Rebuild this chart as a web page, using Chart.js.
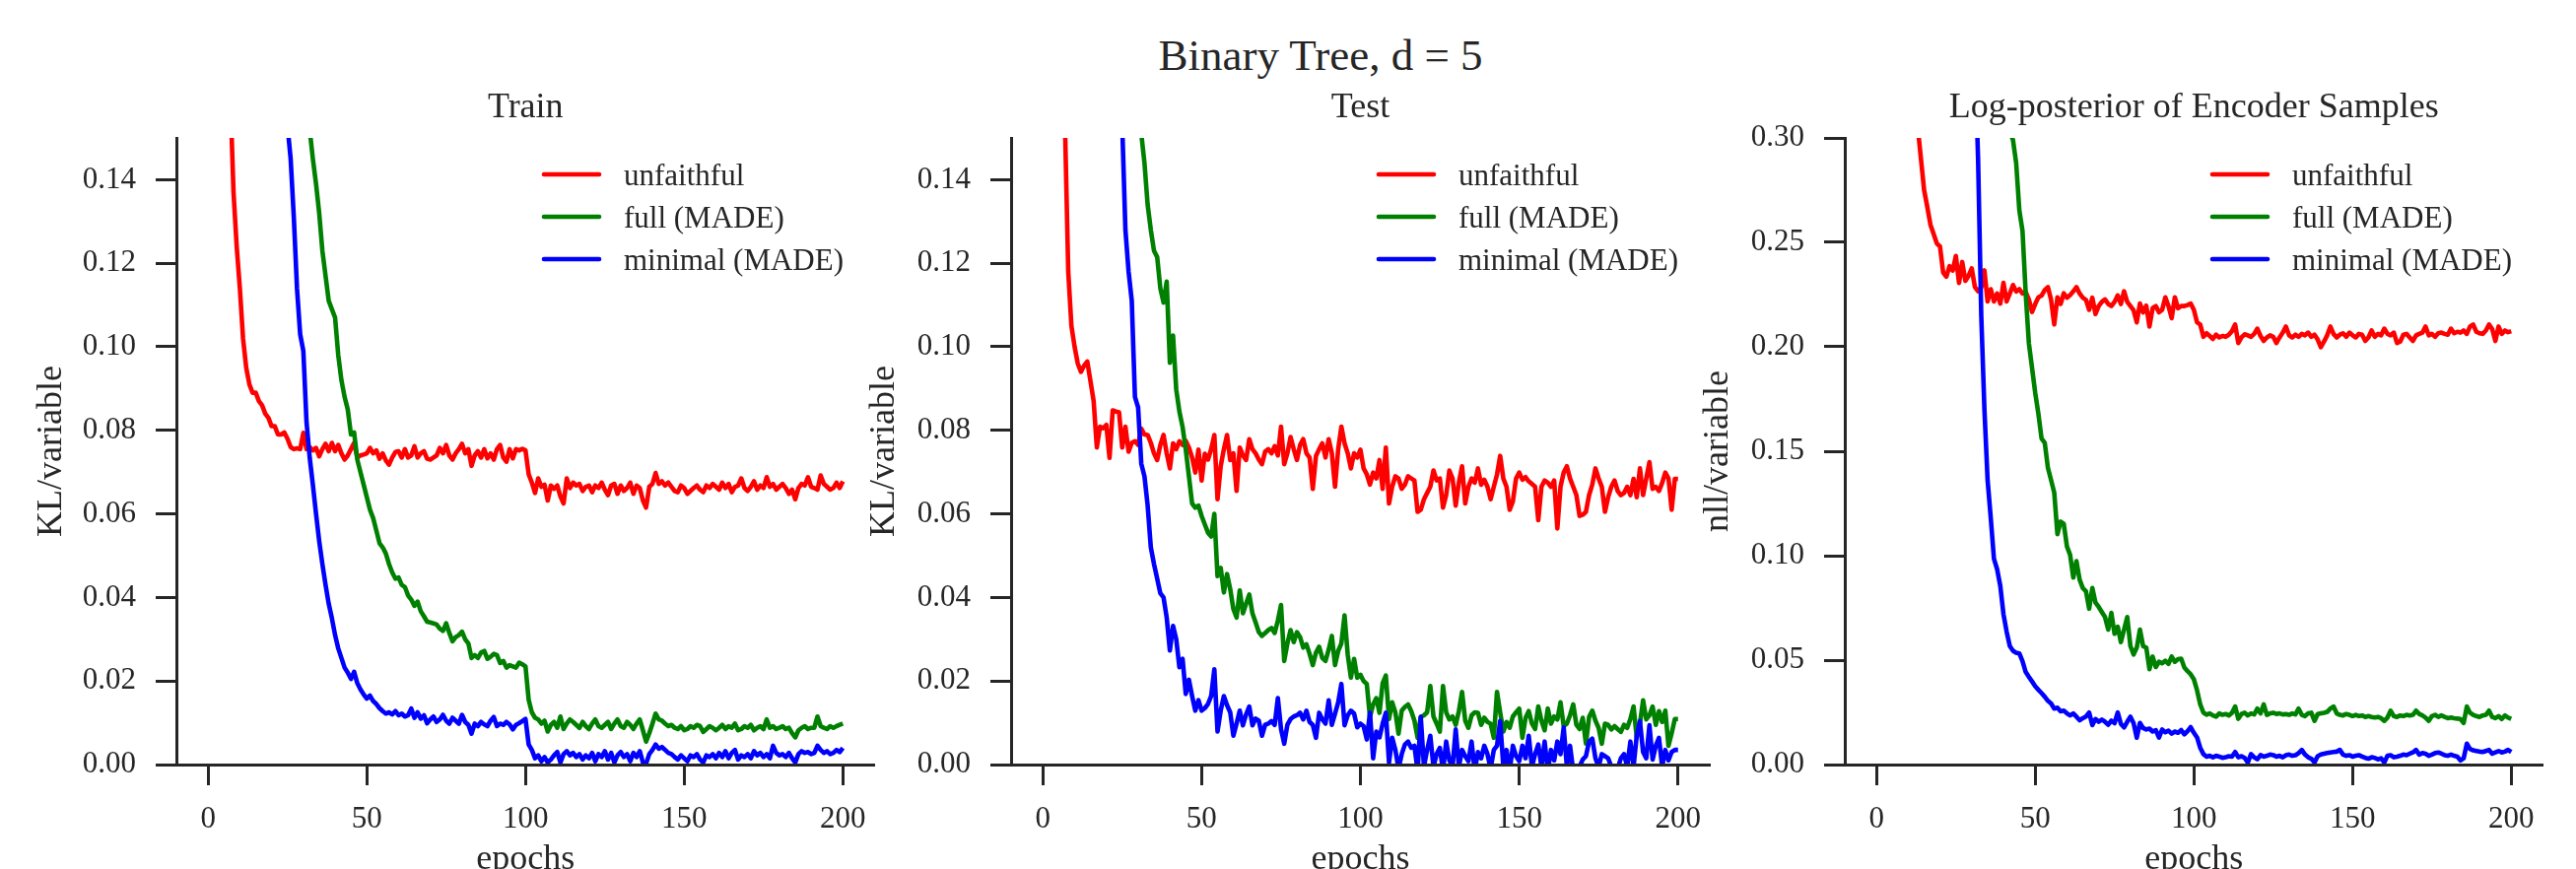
<!DOCTYPE html>
<html>
<head>
<meta charset="utf-8">
<title>Binary Tree, d = 5</title>
<script src="https://cdn.jsdelivr.net/npm/chart.js@4.4.1/dist/chart.umd.min.js"></script>
<style>
	html, body { margin: 0; padding: 0; background: #fff; overflow: hidden; }
	#page { position: relative; width: 2614px; height: 882px; overflow: hidden; background: #fff; }
	#page canvas { position: absolute; left: 0; top: 0; }
	#suptitle {
		position: absolute; left: 1340px; top: 34px; transform: translateX(-50%);
		font: 45px/45px 'Liberation Serif', 'DejaVu Serif', serif; color: #262626; white-space: nowrap;
	}
</style>
</head>
<body>
<div id="page">
	<div id="suptitle">Binary Tree, d = 5</div>
	<canvas id="train" width="2614" height="900"></canvas>
	<canvas id="test" width="2614" height="900"></canvas>
	<canvas id="nll" width="2614" height="900"></canvas>
</div>
<script>
const epochs = Array.from({length: 200}, (_, i) => i + 1);
const xTicks = [0, 50, 100, 150, 200];
const klTicks = [0, 0.02, 0.04, 0.06, 0.08, 0.10, 0.12, 0.14];
const nllTicks = [0, 0.05, 0.10, 0.15, 0.20, 0.25, 0.30];
const seriesLabels = ['unfaithful', 'full (MADE)', 'minimal (MADE)'];

// Train KL/variable
const trainUnfaithful = [
	.50, .38, .30, .25, .21, .18, .16, .137, .124, .114,
	.102, .095, .091, .089, .089, .087, .086, .084, .083, .081,
	.081, .079, .079, .0795, .078, .076, .0755, .0757, .0755, .0794,
	.0755, .076, .0752, .0758, .0738, .0755, .0768, .075, .077, .075,
	.0765, .0745, .073, .074, .0755, .077, .0735, .074, .0742, .0745,
	.0758, .0745, .0752, .0732, .0745, .0728, .0718, .0735, .0748, .075,
	.0735, .0755, .0735, .074, .0762, .0735, .0745, .075, .0732, .073,
	.0735, .074, .0758, .0745, .0765, .074, .073, .0745, .0755, .0768,
	.0745, .0755, .0715, .074, .075, .0735, .0755, .0733, .0745, .073,
	.0755, .0765, .0735, .0725, .0755, .0733, .0755, .0752, .0756, .0752,
	.0695, .0675, .065, .0685, .0665, .067, .0632, .0668, .066, .0668,
	.0642, .0625, .0685, .0662, .0675, .0668, .0672, .0655, .0665, .0668,
	.0652, .0668, .0662, .0675, .0658, .0645, .0668, .0672, .0648, .0668,
	.0655, .0662, .0675, .0648, .0668, .0662, .0632, .0615, .0665, .0672,
	.0698, .0672, .0678, .0668, .0675, .0665, .0655, .0652, .0668, .0662,
	.0648, .0655, .0662, .0668, .0658, .0652, .0668, .0662, .0672, .0665,
	.0658, .0675, .0662, .0672, .0652, .0665, .0668, .0685, .0662, .0655,
	.0665, .0678, .0658, .0668, .0662, .0688, .0665, .0672, .0658, .0665,
	.0672, .0662, .0648, .0658, .0635, .0662, .0672, .0668, .0688, .0665,
	.0662, .0658, .0692, .0672, .0665, .0658, .0662, .0675, .0662, .0678
];
const trainFull = [
	.62, .58, .54, .50, .47, .44, .41, .385, .36, .34,
	.32, .30, .285, .27, .26, .25, .24, .23, .222, .215,
	.208, .202, .197, .192, .188, .184, .18, .176, .172, .168,
	.160, .152, .145, .139, .132, .123, .117, .111, .109, .107,
	.098, .092, .088, .085, .079, .0795, .073, .070, .067, .064,
	.061, .059, .056, .053, .052, .0505, .048, .046, .0445, .0448,
	.043, .0425, .0405, .0395, .038, .039, .0367, .0355, .0342, .034,
	.0338, .0335, .0325, .032, .0338, .0315, .0295, .0305, .031, .0318,
	.030, .029, .0255, .0262, .0255, .0268, .0272, .0253, .0258, .0265,
	.0262, .0243, .0248, .0232, .0238, .0235, .0232, .0244, .024, .0235,
	.0155, .0125, .0112, .0108, .0098, .0105, .0079, .0095, .0102, .0088,
	.0115, .0085, .0098, .0108, .0102, .0095, .0088, .0102, .0092, .0085,
	.0098, .0108, .0092, .0088, .0095, .0102, .0085, .0098, .0108, .0092,
	.0088, .0102, .0095, .0085, .0098, .0108, .0082, .0055, .0075, .0098,
	.0122, .0108, .0105, .0098, .0092, .0095, .0088, .0085, .0092, .0082,
	.0085, .0092, .0088, .0095, .0092, .0078, .0085, .0092, .0088, .0082,
	.0088, .0095, .0085, .0092, .0088, .0098, .0082, .0085, .0092, .0088,
	.0095, .0082, .0088, .0092, .0085, .0108, .0088, .0092, .0085, .0088,
	.0092, .0085, .0088, .0075, .0065, .0082, .0088, .0092, .0085, .0088,
	.0088, .0115, .0092, .0088, .0085, .0092, .0088, .0092, .0095, .0098
];
const trainMinimal = [
	.60, .55, .50, .46, .42, .39, .36, .335, .31, .29,
	.275, .26, .245, .232, .22, .21, .20, .192, .184, .177,
	.171, .166, .161, .157, .153, .145, .131, .114, .103, .099,
	.082, .0735, .067, .060, .0535, .048, .043, .0385, .035, .031,
	.0278, .0255, .0232, .022, .0205, .0222, .0195, .018, .0168, .0158,
	.0165, .0152, .0145, .0135, .0128, .0122, .0125, .012, .0128, .0118,
	.0122, .0115, .0118, .0134, .0112, .0125, .011, .0118, .0099, .0108,
	.0115, .0102, .0108, .0119, .0105, .0098, .0112, .0105, .0098, .0119,
	.0102, .0095, .0074, .0098, .0092, .0102, .0096, .0092, .0105, .0114,
	.0092, .0098, .0095, .0102, .0096, .0084, .0095, .0099, .0104, .0109,
	.0048, .0035, .0015, .0022, .0008, .0018, .0005, .0012, .0022, .003,
	.0005, .0025, .0032, .0022, .0028, .0018, .0025, .0012, .0022, .0015,
	.0028, .0008, .0025, .0018, .0032, .0012, .0028, .0005, .0022, .003,
	.0018, .0025, .0008, .0028, .0018, .0032, .0005, .0002, .0025, .0035,
	.0048, .0038, .0042, .0035, .0028, .0025, .0018, .0012, .0022, .0015,
	.0008, .0022, .0018, .0025, .0012, .0005, .0022, .0018, .0025, .0015,
	.0028, .0018, .0032, .0015, .0028, .0035, .0012, .0022, .0018, .0025,
	.0015, .0032, .0022, .0028, .0018, .0025, .0015, .0045, .0028, .0022,
	.0025, .0018, .0028, .0015, .0005, .0025, .0032, .0028, .003, .0025,
	.0028, .0045, .0035, .0028, .0032, .0025, .0028, .0035, .003, .004
];

// Test KL/variable
const testUnfaithful = [
	.45, .34, .27, .22, .19, .168, .152, .118, .105, .100,
	.096, .094, .0955, .0965, .0918, .087, .0759, .0809, .0805, .0813,
	.0734, .0848, .0845, .0843, .0759, .0809, .0749, .077, .0774, .0765,
	.0804, .079, .0789, .077, .0745, .0729, .0765, .0789, .0745, .0709,
	.0769, .0755, .0774, .0765, .0775, .0759, .0735, .0699, .0754, .068,
	.0744, .073, .0755, .0789, .0635, .0714, .0755, .0789, .0729, .0745,
	.0655, .0759, .074, .0729, .0779, .0755, .0745, .073, .0719, .0749,
	.0755, .0745, .0762, .074, .0809, .0719, .0745, .0784, .0755, .0729,
	.0765, .0779, .0745, .0735, .066, .0739, .0755, .0769, .0735, .0779,
	.0745, .0665, .0755, .0809, .0769, .0745, .0709, .0745, .0735, .0754,
	.0709, .0695, .067, .0699, .0685, .0729, .066, .0759, .0625, .0665,
	.069, .0685, .066, .067, .069, .0685, .068, .0605, .061, .0635,
	.065, .0665, .0704, .068, .0685, .0615, .0645, .0704, .0685, .062,
	.0675, .0714, .0625, .0665, .0685, .0675, .0709, .067, .0682, .0665,
	.0635, .0665, .0694, .0739, .0685, .0665, .061, .063, .0685, .0699,
	.0682, .0688, .0678, .0672, .0665, .0585, .0665, .068, .0675, .0665,
	.068, .0565, .0665, .0699, .0714, .0685, .0665, .0645, .0595, .0598,
	.0605, .0645, .067, .0709, .0685, .0665, .0605, .064, .0665, .068,
	.0655, .0645, .065, .0665, .0645, .0684, .064, .0709, .0645, .0685,
	.0724, .066, .0665, .0655, .0674, .0699, .0685, .061, .0684, .0684
];
const testFull = [
	.62, .58, .54, .50, .47, .44, .41, .385, .36, .34,
	.32, .30, .285, .27, .258, .246, .236, .226, .218, .21,
	.203, .196, .19, .184, .178, .173, .168, .163, .159, .155,
	.151, .144, .134, .128, .123, .1215, .114, .1106, .1156, .0962,
	.1027, .0898, .0845, .0808, .0754, .069, .0625, .0615, .062, .0595,
	.0575, .0555, .0546, .060, .0451, .0471, .0412, .0456, .042, .0372,
	.0352, .0417, .0362, .0385, .0407, .0362, .034, .0317, .0308, .0315,
	.0322, .0327, .0315, .0345, .0382, .0248, .029, .0322, .0293, .0317,
	.0305, .028, .0288, .0265, .0238, .0268, .0282, .0255, .0248, .0275,
	.0308, .0238, .0272, .029, .0357, .0263, .0208, .0253, .0208, .0215,
	.020, .0193, .0114, .0144, .0159, .0124, .0195, .0213, .0109, .0149,
	.0125, .0074, .0129, .0138, .0144, .0128, .0105, .0064, .0114, .0118,
	.0125, .0188, .0115, .0098, .0079, .0188, .0125, .0108, .0115, .0095,
	.0128, .0174, .0105, .0088, .0118, .0125, .0124, .0095, .0112, .0102,
	.0098, .0064, .0174, .0125, .0079, .0102, .0088, .0115, .0125, .0134,
	.0064, .0112, .0128, .0098, .0085, .0139, .0105, .0082, .0134, .0098,
	.0115, .0108, .0149, .0092, .0098, .0118, .0144, .0095, .0085, .0112,
	.005, .0114, .0129, .0105, .0088, .005, .0098, .0095, .0084, .0092,
	.0085, .0078, .0095, .0088, .0109, .0139, .0065, .0098, .0154, .0108,
	.0118, .0139, .0095, .0128, .0102, .0129, .0045, .0075, .0109, .0109
];
const testMinimal = [
	.60, .55, .50, .46, .42, .39, .36, .335, .31, .29,
	.275, .26, .245, .232, .22, .21, .20, .192, .184, .177,
	.171, .166, .161, .157, .153, .128, .118, .111, .088, .0855,
	.072, .069, .062, .052, .048, .0445, .041, .040, .0352, .0273,
	.0332, .030, .0233, .0253, .0169, .0203, .0164, .0129, .0154, .0129,
	.0135, .0145, .0164, .0228, .0079, .0129, .0164, .0142, .0125, .0069,
	.0098, .0129, .0094, .012, .0139, .0094, .011, .0105, .0069, .0095,
	.0098, .0104, .0095, .0159, .0085, .005, .0095, .0109, .0115, .0118,
	.0124, .0108, .0129, .0102, .0095, .0064, .0124, .0108, .0098, .0154,
	.0095, .0122, .0149, .0193, .0094, .0118, .0129, .0122, .0089, .0098,
	.0092, .006, .0124, .0015, .0079, .0065, .0098, .0124, .0005, .0064,
	.0035, -.001, .0025, .0048, .0055, .004, .0045, -.0015, .0114, -.0005,
	.0035, .0069, -.0005, .0025, .004, -.0015, .0055, .001, -.0005, .0084,
	-.0005, .0035, .002, .0008, .0055, -.0015, .003, .0015, .0045, .0025,
	-.001, .0035, .0045, .0104, -.0005, .0035, -.0015, .0045, .002, .0008,
	.0045, .0015, .0069, -.0005, .0025, .0048, -.0005, .0055, -.0015, .0035,
	.001, .0055, .0025, .0089, -.0005, .0045, -.0015, -.001, -.0005, .0012,
	.002, .0055, .0062, .0015, -.0005, .0025, .002, .0015, -.0005, -.0015,
	-.001, .0015, .0025, -.0005, .0055, -.0005, .0069, .0104, .003, .0015,
	.0094, .0012, .0045, .0064, -.0005, .0035, .001, .003, .0035, .0035
];

// Log-posterior of encoder samples, nll/variable
const nllUnfaithful = [
	.90, .80, .72, .65, .59, .54, .49, .45, .42, .39,
	.36, .33, .305, .29, .275, .267, .2584, .254, .2495, .248,
	.2356, .2336, .2386, .2365, .2435, .2306, .2406, .2316, .234, .2376,
	.2286, .2266, .2285, .2366, .2217, .2276, .2217, .2255, .2207, .2306,
	.2217, .2255, .2296, .2265, .2276, .2255, .2262, .2227, .2167, .2205,
	.2237, .2245, .2272, .2286, .2225, .2107, .2237, .2205, .2256, .2235,
	.2248, .2265, .2286, .2255, .2235, .2225, .2177, .2235, .2157, .2195,
	.2215, .2227, .2205, .2195, .2215, .2246, .2205, .2266, .2215, .2195,
	.2175, .2117, .2207, .2165, .2197, .2097, .2185, .2195, .2165, .2177,
	.2237, .2195, .2137, .2237, .2185, .2195, .2195, .22, .2207, .2177,
	.2117, .2107, .2048, .2065, .2052, .2038, .2058, .2045, .2052, .2048,
	.2058, .2075, .2107, .2018, .2045, .206, .2055, .2048, .2062, .2087,
	.2052, .2028, .2045, .2055, .2048, .2018, .2045, .2068, .2097, .2055,
	.2045, .2058, .2048, .2062, .2055, .2068, .2048, .2058, .2035, .1998,
	.2025, .2055, .2097, .2062, .2045, .2058, .2065, .2048, .2068, .2055,
	.2045, .2062, .2058, .2028, .2045, .2078, .2048, .2062, .2055, .2087,
	.2062, .2055, .2068, .2018, .2025, .2058, .2062, .2045, .2028, .2055,
	.2062, .2068, .2097, .2055, .2062, .2048, .2065, .2068, .2062, .2058,
	.2087, .2065, .2072, .2068, .2078, .2062, .2097, .2107, .2072, .2065,
	.2062, .2078, .2107, .2085, .2028, .2097, .2062, .2078, .207, .2075
];
const nllFull = [
	1.2, 1.1, 1.02, .95, .89, .84, .79, .75, .72, .69,
	.66, .635, .61, .59, .57, .55, .535, .52, .505, .49,
	.477, .465, .453, .442, .432, .422, .413, .404, .395, .387,
	.379, .371, .364, .357, .35, .343, .336, .329, .322, .315,
	.309, .303, .299, .288, .2654, .2555, .2256, .2018, .1899, .178,
	.168, .1561, .1541, .1421, .1362, .1302, .1103, .1163, .1153, .1044,
	.1004, .0895, .0974, .0885, .0845, .083, .0746, .0845, .0775, .0755,
	.073, .0706, .0646, .0726, .0626, .066, .0586, .0646, .0706, .0567,
	.0527, .056, .0646, .0567, .056, .0457, .0517, .0467, .0492, .0485,
	.0497, .0482, .0517, .0492, .0505, .0507, .0465, .0447, .0432, .0408,
	.0355, .0288, .0249, .0239, .0245, .0235, .0229, .0245, .0238, .0242,
	.0235, .0248, .0278, .0219, .0242, .0248, .0235, .0245, .024, .0268,
	.0245, .0288, .0238, .0245, .0248, .0242, .0245, .024, .0242, .0238,
	.0245, .024, .0268, .0238, .0232, .0245, .0248, .0209, .0242, .0245,
	.0248, .0252, .0268, .0278, .0245, .0238, .0235, .0242, .0238, .0232,
	.0238, .0232, .0235, .0228, .0232, .0228, .0225, .0228, .0222, .0209,
	.0225, .0258, .0232, .0228, .0235, .0232, .0238, .0235, .0238, .0258,
	.0242, .0235, .0225, .0209, .0232, .0238, .0228, .0235, .0228, .0222,
	.0225, .0222, .022, .0218, .0199, .0278, .0248, .0238, .0232, .0228,
	.0235, .0238, .0258, .0228, .0222, .0232, .0218, .0235, .0225, .0219
];
const nllMinimal = [
	2.0, 1.9, 1.8, 1.7, 1.6, 1.5, 1.42, 1.34, 1.27, 1.2,
	1.14, 1.08, 1.02, .97, .92, .87, .83, .79, .75, .71,
	.68, .65, .62, .59, .56, .53, .50, .46, .42, .38,
	.34, .29, .215, .17, .1362, .118, .0985, .0935, .0855, .072,
	.0636, .0567, .0545, .0535, .0532, .0495, .0443, .042, .0398, .0375,
	.0358, .0342, .0325, .0305, .0292, .0268, .0272, .0255, .0258, .0245,
	.0235, .0245, .0229, .0212, .0222, .023, .0249, .0189, .0218, .0205,
	.0215, .0205, .019, .021, .0198, .0249, .0195, .0178, .0205, .0229,
	.0198, .0129, .0199, .0175, .0168, .0172, .0158, .0165, .0129, .0168,
	.0155, .0162, .0148, .0158, .0152, .0165, .0145, .016, .0179, .0152,
	.013, .008, .005, .0038, .0042, .0035, .0042, .0038, .0032, .0035,
	.004, .0038, .006, .0035, .004, .0032, .001, .005, .0035, .0025,
	.0045, .0038, .0042, .0048, .0045, .0038, .0042, .0035, .0045, .0048,
	.0042, .0045, .0055, .007, .0048, .0035, .0028, .001, .004, .0048,
	.0052, .0055, .0058, .006, .0062, .007, .0048, .0042, .0045, .0038,
	.0042, .0045, .0038, .0032, .0028, .0035, .0032, .0025, .003, .001,
	.0042, .0045, .0035, .0038, .0042, .0048, .0045, .0052, .0058, .007,
	.0048, .0055, .0052, .0042, .0048, .0055, .0058, .0052, .0045, .0042,
	.0048, .0042, .0038, .002, .003, .01, .0075, .0068, .0065, .0062,
	.006, .0065, .007, .0052, .0058, .0065, .0058, .0062, .007, .006
];

const seriesColors = ['#ff0000', '#008000', '#0000ff'];
const ink = '#262626';
const serif = "'Liberation Serif', 'DejaVu Serif', serif";
const pageWidth = 2614;
const axisWidth = 150;
const xAxisHeight = 124;

const panels = [
	{id: 'train', title: 'Train', yLabel: 'KL/variable', yMax: 0.15, yTicks: klTicks,
		series: [trainUnfaithful, trainFull, trainMinimal], left: 179, right: 887.5, yLabelPad: 2},
	{id: 'test', title: 'Test', yLabel: 'KL/variable', yMax: 0.15, yTicks: klTicks,
		series: [testUnfaithful, testFull, testMinimal], left: 1026, right: 1735, yLabelPad: 0},
	{id: 'nll', title: 'Log-posterior of Encoder Samples', yLabel: 'nll/variable', yMax: 0.30, yTicks: nllTicks,
		series: [nllUnfaithful, nllFull, nllMinimal], left: 1872, right: 2580.5, yLabelPad: 0}
];

// matplotlib-style legend drawn inside the axes, no frame
const insideLegend = {
	id: 'insideLegend',
	afterDatasetsDraw: (chart, args, opts) => {
		const {ctx, chartArea} = chart;
		ctx.save();
		ctx.font = opts.font;
		ctx.textAlign = 'left';
		ctx.textBaseline = 'alphabetic';
		chart.data.datasets.forEach((ds, i) => {
			const x = chartArea.left + opts.x;
			const y = chartArea.top + opts.y + i * opts.rowGap;
			ctx.strokeStyle = ds.borderColor;
			ctx.lineWidth = ds.borderWidth;
			ctx.lineCap = 'round';
			ctx.beginPath();
			ctx.moveTo(x + 2, y);
			ctx.lineTo(x + opts.lineLength - 2, y);
			ctx.stroke();
			ctx.fillStyle = opts.color;
			ctx.fillText(ds.label, x + opts.textOffset, y + opts.baseline);
		});
		ctx.restore();
	}
};

const axisStyle = () => ({
	border: {display: true, color: ink, width: 3, z: 1},
	grid: {display: true, drawOnChartArea: false, drawTicks: true, tickLength: 21, tickWidth: 3, tickColor: ink}
});

const makeChart = panel => new Chart(document.getElementById(panel.id), {
	type: 'line',
	data: {
		labels: epochs,
		datasets: panel.series.map((values, i) => ({
			label: seriesLabels[i],
			data: values,
			borderColor: seriesColors[i],
			backgroundColor: seriesColors[i],
			borderWidth: 4.6,
			borderJoinStyle: 'round',
			pointRadius: 0,
			tension: 0,
			clip: 0,
			order: panel.series.length - i
		}))
	},
	options: {
		responsive: false,
		animation: false,
		events: [],
		layout: {padding: {left: panel.left - axisWidth, right: pageWidth - panel.right, top: 0, bottom: 0}},
		plugins: {
			legend: {display: false},
			tooltip: {enabled: false},
			title: {
				display: true,
				text: panel.title,
				color: ink,
				fullSize: false,
				font: {family: serif, size: 36, weight: 'normal', lineHeight: 1.2},
				padding: {top: 88.4, bottom: 8.4}
			},
			insideLegend: {
				x: 371, y: 37, rowGap: 43, lineLength: 60, textOffset: 83, baseline: 11,
				font: `31px ${serif}`, color: ink
			}
		},
		scales: {
			x: {
				type: 'linear',
				min: -10,
				max: 210,
				afterBuildTicks: scale => { scale.ticks = xTicks.map(value => ({value})); },
				afterFit: scale => { scale.height = xAxisHeight; },
				...axisStyle(),
				ticks: {color: ink, font: {family: serif, size: 31}, padding: 16, maxRotation: 0, autoSkip: false,
					callback: value => String(value)},
				title: {display: true, text: 'epochs', color: ink, font: {family: serif, size: 36, lineHeight: 1.2},
					padding: {top: 0, bottom: 6}}
			},
			y: {
				type: 'linear',
				min: 0,
				max: panel.yMax,
				afterBuildTicks: scale => { scale.ticks = panel.yTicks.map(value => ({value})); },
				afterFit: scale => { scale.width = axisWidth; },
				...axisStyle(),
				ticks: {color: ink, font: {family: serif, size: 31}, padding: 20, autoSkip: false,
					callback: value => value.toFixed(2)},
				title: {display: true, text: panel.yLabel, color: ink, font: {family: serif, size: 36, lineHeight: 1.2},
					padding: {top: panel.yLabelPad, bottom: 0}}
			}
		}
	},
	plugins: [insideLegend]
});

panels.forEach(makeChart);
</script>
</body>
</html>
